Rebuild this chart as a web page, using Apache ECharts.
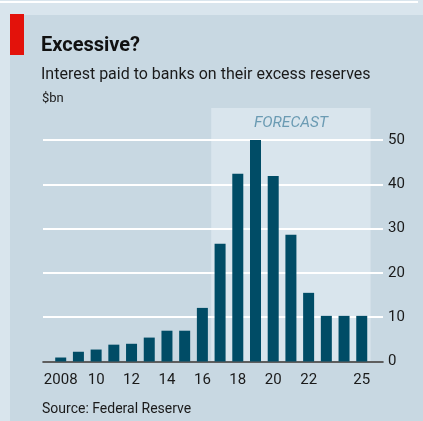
<!DOCTYPE html>
<html>
<head>
<meta charset="utf-8">
<script src="https://cdn.jsdelivr.net/npm/echarts@6/dist/echarts.min.js"></script>
<style>
html,body{margin:0;padding:0;background:#d9e5ed;}
#c{width:423px;height:421px;}
</style>
</head>
<body>
<div id="c"></div>
<script>
var years = [2008,2009,2010,2011,2012,2013,2014,2015,2016,2017,2018,2019,2020,2021,2022,2023,2024,2025];
var interestPaid = [0.9,2.2,2.7,3.8,4.0,5.4,6.95,6.95,12.1,26.6,42.4,50,41.9,28.6,15.5,10.3,10.3,10.3];
var tickYears = [2008,2010,2012,2014,2016,2018,2020,2022,2025];
var tickLabels = ['2008','10','12','14','16','18','20','22','25'];
var forecastStart = 2016.5, forecastEnd = 2025.5;

var FONT = 'Roboto, "Noto Sans", sans-serif';
var chart = echarts.init(document.getElementById('c'), null, {renderer:'canvas'});

var barData = years.map(function(y,i){return [y, interestPaid[i]];});

function baseGraphics(extra){
  var g = [
    {type:'rect', id:'topline', z:-20, shape:{x:0,y:1,width:418,height:2}, style:{fill:'#ffffff'}},
    {type:'rect', id:'panel', z:-20, shape:{x:10,y:15,width:413,height:406}, style:{fill:'#c8d8e2'}},
    {type:'rect', id:'redbar', z:-5, shape:{x:10,y:14,width:14,height:41}, style:{fill:'#e3120b'}},
    {type:'text', id:'title', left:41, top:36, style:{text:'Excessive?', font:'bold 20px '+FONT, fill:'#111111'}},
    {type:'text', id:'sub', left:41, top:67, style:{text:'Interest paid to banks on their excess reserves', font:'16px '+FONT, fill:'#1a1a1a'}},
    {type:'text', id:'unit', left:42, top:92, style:{text:'$bn', font:'13px '+FONT, fill:'#1a1a1a'}},
    {type:'text', id:'src', left:42, top:402, style:{text:'Source: Federal Reserve', font:'14px '+FONT, fill:'#1a1a1a'}}
  ];
  return g.concat(extra||[]);
}

chart.setOption({
  backgroundColor:'#d9e5ed',
  animation:false,
  grid:{left:43, right:40, top:140, bottom:59.5, containLabel:false},
  xAxis:{
    type:'value', min:2007, max:2026.2, interval:1,
    axisLine:{show:true, onZero:true, lineStyle:{color:'#2a2a2a', width:1.5}},
    axisTick:{show:false},
    splitLine:{show:false},
    axisLabel:{
      margin:11, fontSize:15, fontFamily:FONT, color:'#1a1a1a',
      showMinLabel:true, showMaxLabel:true,
      formatter:function(v){
        var k = tickYears.indexOf(Math.round(v*1000)/1000);
        return k>=0 ? tickLabels[k] : '';
      }
    }
  },
  yAxis:{
    type:'value', position:'right', min:0, max:50, interval:10,
    axisLine:{show:false}, axisTick:{show:false},
    splitLine:{show:true, lineStyle:{color:'#ffffff', width:2}},
    axisLabel:{margin:5, fontSize:15, fontFamily:FONT, color:'#1a1a1a'}
  },
  series:[{
    type:'bar', data:barData, barWidth:11,
    itemStyle:{color:'#004c66'}, z:3
  }],
  graphic: baseGraphics()
});

var x1 = chart.convertToPixel({xAxisIndex:0}, forecastStart);
var x2 = chart.convertToPixel({xAxisIndex:0}, forecastEnd);
var y0 = chart.convertToPixel({yAxisIndex:0}, 0);
var topY = 108;
chart.setOption({
  graphic: baseGraphics([
    {type:'rect', id:'fc', z:-10, shape:{x:x1, y:topY, width:x2-x1, height:y0-topY}, style:{fill:'#d9e5ed'}},
    {type:'text', id:'fctext', x:(x1+x2)/2, y:123, style:{text:'FORECAST', font:'italic 15.5px '+FONT, fill:'#6b9bb3', textAlign:'center', textVerticalAlign:'middle'}}
  ])
});
</script>
</body>
</html>
